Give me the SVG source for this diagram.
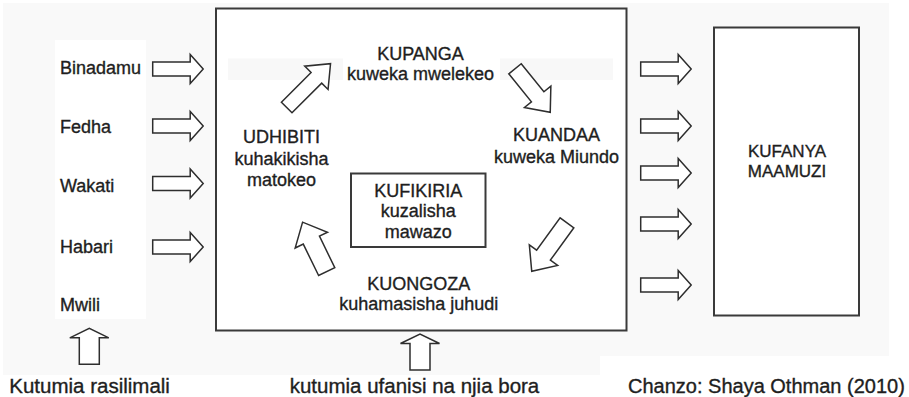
<svg xmlns="http://www.w3.org/2000/svg" width="909" height="397" viewBox="0 0 909 397">
  <style>
    text { font-family: "Liberation Sans", Arial, sans-serif; fill: #1e1e1e; stroke: #1e1e1e; stroke-width: 0.35; }
    .lbl { font-size: 18px; }
    .mid { text-anchor: middle; }
    .big { font-size: 20.5px; }
    .box { fill: #fff; stroke: #3a3a3a; stroke-width: 2; }
    .arr { fill: #fff; stroke: #2e2e2e; stroke-width: 1.5; stroke-linejoin: miter; }
  </style>
  <defs>
    <path id="hArrow" d="M0,-7 H37.5 V-14.5 L50.5,0 L37.5,14.5 V7 H0 Z"/>
    <path id="upArrow" d="M0,-10 H26.5 V-19.5 L36,0 L26.5,19.5 V10 H0 Z"/>
  </defs>

  <!-- background -->
  <rect x="0" y="0" width="909" height="397" fill="#fff"/>
  <rect x="3" y="3" width="886" height="372" fill="#f9f9f9"/>
  <rect x="600" y="356" width="289" height="19" fill="#fff"/>
  <rect x="55" y="40" width="91" height="279" fill="#fff"/>

  <!-- main box -->
  <g id="main-box">
    <rect class="box" x="216" y="8.5" width="410.5" height="322"/>
    <rect x="228" y="58.5" width="115" height="21.5" fill="#f8f8f8"/>
    <rect x="500" y="58.5" width="113" height="21.5" fill="#f8f8f8"/>
  </g>

  <g id="kupanga">
    <text class="lbl mid" x="420.5" y="59.5">KUPANGA</text>
    <text class="lbl mid" x="420.5" y="79.5">kuweka mwelekeo</text>
  </g>
  <g id="kuandaa">
    <text class="lbl mid" x="556.5" y="141">KUANDAA</text>
    <text class="lbl mid" x="556.5" y="163">kuweka Miundo</text>
  </g>
  <g id="udhibiti">
    <text class="lbl mid" x="281.5" y="143">UDHIBITI</text>
    <text class="lbl mid" x="281.5" y="165">kuhakikisha</text>
    <text class="lbl mid" x="281.5" y="186">matokeo</text>
  </g>
  <g id="kufikiria">
    <rect class="box" x="351" y="173.5" width="134.5" height="73.5" stroke-width="1.8"/>
    <text class="lbl mid" x="418.2" y="196.7">KUFIKIRIA</text>
    <text class="lbl mid" x="418.2" y="217">kuzalisha</text>
    <text class="lbl mid" x="418.2" y="237.7">mawazo</text>
  </g>
  <g id="kuongoza">
    <text class="lbl mid" x="418.8" y="290">KUONGOZA</text>
    <text class="lbl mid" x="418.8" y="310">kuhamasisha juhudi</text>
  </g>

  <g id="kufanya-maamuzi">
    <rect class="box" x="714" y="27.5" width="145" height="288"/>
    <text class="mid" x="787" y="156.7" font-size="17">KUFANYA</text>
    <text class="mid" x="787" y="176.7" font-size="17">MAAMUZI</text>
  </g>

  <g id="resources">
    <text class="lbl" x="60" y="74">Binadamu</text>
    <text class="lbl" x="60" y="132.5">Fedha</text>
    <text class="lbl" x="60" y="192">Wakati</text>
    <text class="lbl" x="60" y="252.5">Habari</text>
    <text class="lbl" x="60" y="311">Mwili</text>
  </g>

  <g id="captions">
    <text class="big" x="9.3" y="392.7">Kutumia rasilimali</text>
    <text class="big mid" x="414.5" y="393">kutumia ufanisi na njia bora</text>
    <text x="628" y="392.5" font-size="20">Chanzo: Shaya Othman (2010)</text>
  </g>

  <g id="connectors">
    <!-- input arrows -->
    <use href="#hArrow" class="arr" transform="translate(152.7,69)"/>
    <use href="#hArrow" class="arr" transform="translate(152.7,126)"/>
    <use href="#hArrow" class="arr" transform="translate(152.7,183.5)"/>
    <use href="#hArrow" class="arr" transform="translate(152.7,247)"/>
    <!-- output arrows -->
    <use href="#hArrow" class="arr" transform="translate(640.7,69)"/>
    <use href="#hArrow" class="arr" transform="translate(640.7,126)"/>
    <use href="#hArrow" class="arr" transform="translate(640.7,173)"/>
    <use href="#hArrow" class="arr" transform="translate(640.7,224)"/>
    <use href="#hArrow" class="arr" transform="translate(640.7,285)"/>
    <!-- up arrows -->
    <use href="#upArrow" class="arr" transform="translate(89.3,364.3) rotate(-90)"/>
    <use href="#upArrow" class="arr" transform="translate(420,370) rotate(-90)"/>
    <!-- cycle arrows -->
    <path class="arr" d="M0,-7.5 H42 V-16.5 L62,0 L42,16.5 V7.5 H0 Z" transform="translate(286.7,107.5) rotate(-45)"/>
    <path class="arr" d="M0,-8 H36 V-17 L56,0 L36,17 V8 H0 Z" transform="translate(515,68.8) rotate(51)"/>
    <path class="arr" d="M0,-8.5 H40 V-17.5 L60,0 L40,17.5 V8.5 H0 Z" transform="translate(567,222.8) rotate(126)"/>
    <path class="arr" d="M0,-9 H35 V-18 L55,0 L35,18 V9 H0 Z" transform="translate(326.7,271.6) rotate(-116)"/>
  </g>
</svg>
